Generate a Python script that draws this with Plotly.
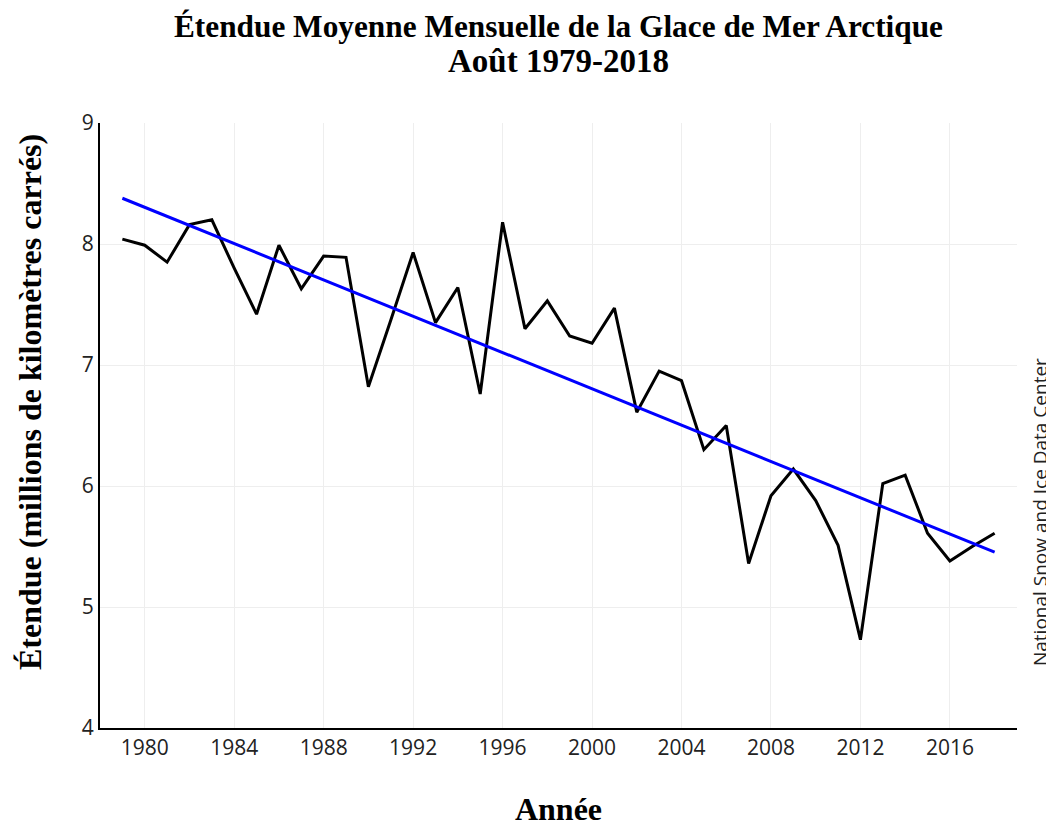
import numpy as np
import plotly.graph_objects as go

years = list(range(1979, 2019))
extent = [8.04, 7.99, 7.85, 8.16, 8.20, 7.80, 7.42, 7.99, 7.63, 7.90,
          7.89, 6.82, 7.37, 7.93, 7.35, 7.64, 6.76, 8.18, 7.30, 7.53,
          7.24, 7.18, 7.47, 6.61, 6.95, 6.87, 6.30, 6.50, 5.36, 5.92,
          6.14, 5.88, 5.51, 4.73, 6.02, 6.09, 5.61, 5.38, 5.50, 5.61]

title_line1 = "<b>Étendue Moyenne Mensuelle de la Glace de Mer Arctique</b>"
title_line2 = "<b>Août 1979-2018</b>"
x_title = "<b>Année</b>"
y_title = "<b>Étendue (millions de kilomètres carrés)</b>"
source_text = "National Snow and Ice Data Center"

slope, intercept = np.polyfit(years, extent, 1)
trend = [slope * y + intercept for y in years]

serif = "Liberation Serif, Times New Roman, serif"
sans = "Open Sans, Noto Sans, sans-serif"

fig = go.Figure()
fig.add_trace(go.Scatter(x=years, y=extent, mode="lines",
                         line=dict(color="black", width=3), showlegend=False))
fig.add_trace(go.Scatter(x=[years[0], years[-1]], y=[trend[0], trend[-1]], mode="lines",
                         line=dict(color="#0000ff", width=3), showlegend=False))

# figure is drawn 8px in from the page corner (body margin), so size is reduced by 8
fig.update_layout(
    width=1046, height=819,
    margin=dict(l=92, r=37, t=115, b=99, autoexpand=False),
    paper_bgcolor="white", plot_bgcolor="white",
    title=dict(text=title_line1, x=0.5, xref="paper", y=1 - 18 / 819, yref="container",
               yanchor="middle", xanchor="center",
               font=dict(family=serif, size=31.3, color="black")),
    font=dict(family=sans, color="#222"),
)
fig.add_annotation(text=title_line2, xref="paper", yref="paper", x=0.5,
                   y=1 + (115 - 53) / 605, xanchor="center", yanchor="middle",
                   showarrow=False, font=dict(family=serif, size=33, color="black"))
fig.update_xaxes(range=[1978, 2019], tick0=1980, dtick=4, showgrid=True,
                 gridcolor="#eeeeee", gridwidth=1, showline=True, linecolor="black",
                 linewidth=2, zeroline=False, ticks="", automargin=False,
                 tickfont=dict(family=sans, size=21, color="#222"),
                 title=dict(text=x_title, font=dict(family=serif, size=32, color="black"),
                            standoff=42))
fig.update_yaxes(range=[4, 9], dtick=1, showgrid=True, gridcolor="#eeeeee",
                 gridwidth=1, showline=True, linecolor="black", linewidth=2,
                 zeroline=False, ticks="", automargin=False,
                 tickfont=dict(family=sans, size=21, color="#222"))
fig.add_annotation(text=y_title, xref="paper", yref="paper", x=(22 - 92) / 917,
                   y=0.5388, textangle=-90, showarrow=False, xanchor="center",
                   yanchor="middle", font=dict(family=serif, size=32, color="black"))
fig.add_annotation(text=source_text, xref="paper", yref="paper", x=(1032 - 92) / 917,
                   y=0.357, textangle=-90, showarrow=False, xanchor="center",
                   yanchor="middle", font=dict(family=sans, size=19, color="#222"))

fig.write_html("out.html")
